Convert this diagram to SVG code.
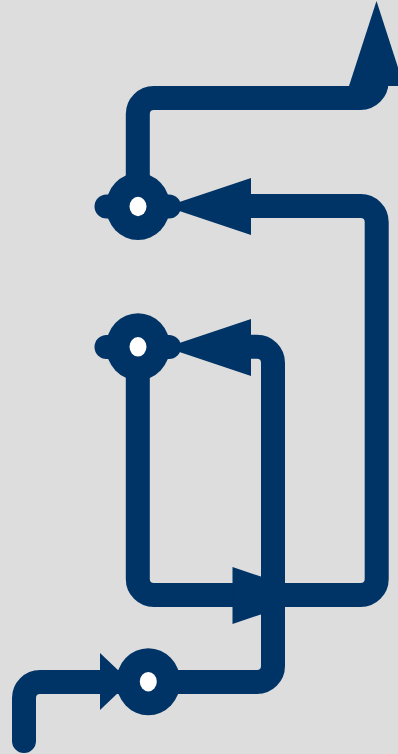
<svg xmlns="http://www.w3.org/2000/svg" width="398" height="754" viewBox="0 0 398 754">
<style>
.w{fill:none;stroke:#003366;stroke-width:24;stroke-linecap:round}
.a,.b{fill:#003366}
.h{fill:#fff}
</style>
<rect width="398" height="754" fill="#dddddd"/>
<g id="connectors">
<path class="w" d="M24 741V698A16 16 0 0 1 40 682H148"/>
<path class="w" d="M148 682H257A16 16 0 0 0 273 666V362.800A16 16 0 0 0 257 346.800H240"/>
<path class="w" d="M137.800 347V579A16 16 0 0 0 153.800 595H360.700A16 16 0 0 0 376.700 579V222A16 16 0 0 0 360.700 206H240"/>
<path class="w" d="M137.800 206V114A16 16 0 0 1 153.800 98H360.500A16 16 0 0 0 376.500 82V70"/>
<polygon class="a" points="166,206.500 251,178 251,235"/>
<polygon class="a" points="166,347.500 251,319 251,376"/>
<polygon class="a" points="317.500,595.500 232.500,567 232.500,624"/>
<polygon class="a" points="130,681.500 100,653 100,710"/>
<polygon class="a" points="376.500,1 349,86 404,86"/>
</g>
<g id="node-top">
<path class="w" d="M106.500 206.500H169"/>
<ellipse class="b" cx="138" cy="206.500" rx="32" ry="33.500"/>
<ellipse class="h" cx="138" cy="206.500" rx="8.500" ry="9.700"/>
</g>
<g id="node-middle">
<path class="w" d="M106.500 347H169"/>
<ellipse class="b" cx="138" cy="346.800" rx="32" ry="33.500"/>
<ellipse class="h" cx="138" cy="346.800" rx="8.500" ry="9.700"/>
</g>
<g id="node-bottom">
<ellipse class="b" cx="148.300" cy="681.700" rx="32" ry="33.500"/>
<ellipse class="h" cx="148.300" cy="681.700" rx="8.500" ry="9.700"/>
</g>
</svg>
